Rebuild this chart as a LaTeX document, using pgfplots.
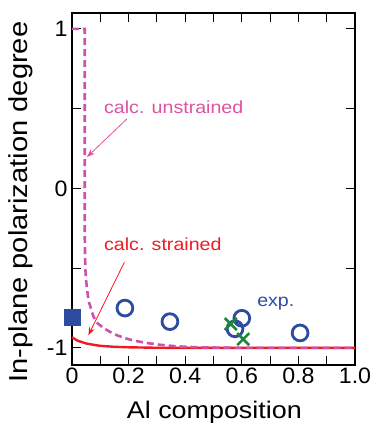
\documentclass[border=0pt]{standalone}
\usepackage{fontspec}
\setmainfont{Liberation Sans}[FakeStretch=1.12]
\newfontfamily\tickfont{Liberation Sans}[FakeStretch=1.04]
\usepackage{pgfplots}
\pgfplotsset{compat=1.18}
\usetikzlibrary{arrows.meta}
\definecolor{cpink}{RGB}{205,82,170}
\definecolor{cpinktext}{RGB}{222,82,160}
\definecolor{cred}{RGB}{237,28,36}
\definecolor{cblue}{RGB}{45,75,160}
\definecolor{cgreen}{RGB}{25,135,60}
\begin{document}
\begin{tikzpicture}
\begin{axis}[
  scale only axis,
  width=283pt, height=352pt,
  xmin=0, xmax=1, ymin=-1.107, ymax=1.1,
  clip=false,
  axis line style={line width=1.2pt},
  tick align=inside,
  major tick length=9pt, minor tick length=9pt,
  every tick/.style={black, line width=1pt},
  xtick={0,0.2,0.4,0.6,0.8,1},
  xticklabels={0,0.2,0.4,0.6,0.8,1.0},
  minor xtick={0.1,0.3,0.5,0.7,0.9},
  ytick={-1,0,1},
  yticklabels={-1,0,1},
  minor ytick={-0.5,0.5},
  tick label style={font=\tickfont\fontsize{22.3}{25}\selectfont},
  yticklabel style={xshift=-1pt},
  xticklabel style={yshift=1pt},
  xlabel={Al composition},
  ylabel={In-plane polarization degree},
  xlabel style={font=\fontsize{24}{28}\selectfont, at={(rel axis cs:0.503,-0.135)}, anchor=center},
  ylabel style={font=\fontsize{26}{30}\selectfont, at={(rel axis cs:-0.18,0.463)}, anchor=center},
]
\coordinate (bl) at (rel axis cs:0,0);
\coordinate (tr) at (rel axis cs:1,1);
% strained (red)
\addplot[cred, line width=2.4pt] coordinates {
(0,-0.933) (0.02,-0.955) (0.05,-0.972) (0.075,-0.98) (0.1,-0.987) (0.15,-0.993) (0.2,-0.996) (0.3,-0.999) (0.5,-1) (1,-1)};
% unstrained (dashed pink)
\addplot[cpink, line width=2.6pt, dash pattern=on 7pt off 4pt] coordinates {
(0,1) (0.045,1) (0.045,0.6) (0.045,-0.3) (0.047,-0.5) (0.05,-0.58) (0.058,-0.70) (0.075,-0.80) (0.09,-0.845) (0.111,-0.875) (0.135,-0.90) (0.158,-0.92) (0.19,-0.94) (0.216,-0.953) (0.26,-0.968) (0.31,-0.98) (0.37,-0.99) (0.43,-0.995) (0.55,-0.999) (0.7,-1) (1,-1)};
% experimental circles
\addplot[only marks, mark=o, mark size=7.9pt, cblue, line width=2.8pt] coordinates {
(0.187,-0.75) (0.346,-0.835) (0.600,-0.814) (0.576,-0.88) (0.806,-0.906)};
% square
\addplot[only marks, mark=square*, mark size=8pt, cblue, line width=0.5pt] coordinates {(0,-0.805)};
% crosses
\addplot[only marks, mark=x, mark size=8.5pt, cgreen, line width=2.6pt] coordinates {(0.561,-0.85) (0.605,-0.945)};
% annotations
\node[anchor=base west, text=cpinktext, font=\fontsize{17.5}{20}\selectfont, inner sep=0pt] at (axis cs:0.113,0.467) {calc. unstrained};
\node[anchor=base west, text=cred, font=\fontsize{17.5}{20}\selectfont, inner sep=0pt] at (axis cs:0.113,-0.392) {calc. strained};
\node[anchor=base west, text=cblue, font=\fontsize{17.5}{20}\selectfont, inner sep=0pt] at (axis cs:0.654,-0.743) {exp.};
\draw[cpinktext, line width=0.8pt, -{Stealth[length=8pt,width=6pt]}] (axis cs:0.194,0.436) -- (axis cs:0.053,0.197);
\draw[cred, line width=0.8pt, -{Stealth[length=8pt,width=6pt]}] (axis cs:0.185,-0.463) -- (axis cs:0.058,-0.92);
\end{axis}
\pgfresetboundingbox
\path ([shift={(-72pt,-61pt)}]bl) rectangle ([shift={(18pt,13pt)}]tr);
\end{tikzpicture}
\end{document}
